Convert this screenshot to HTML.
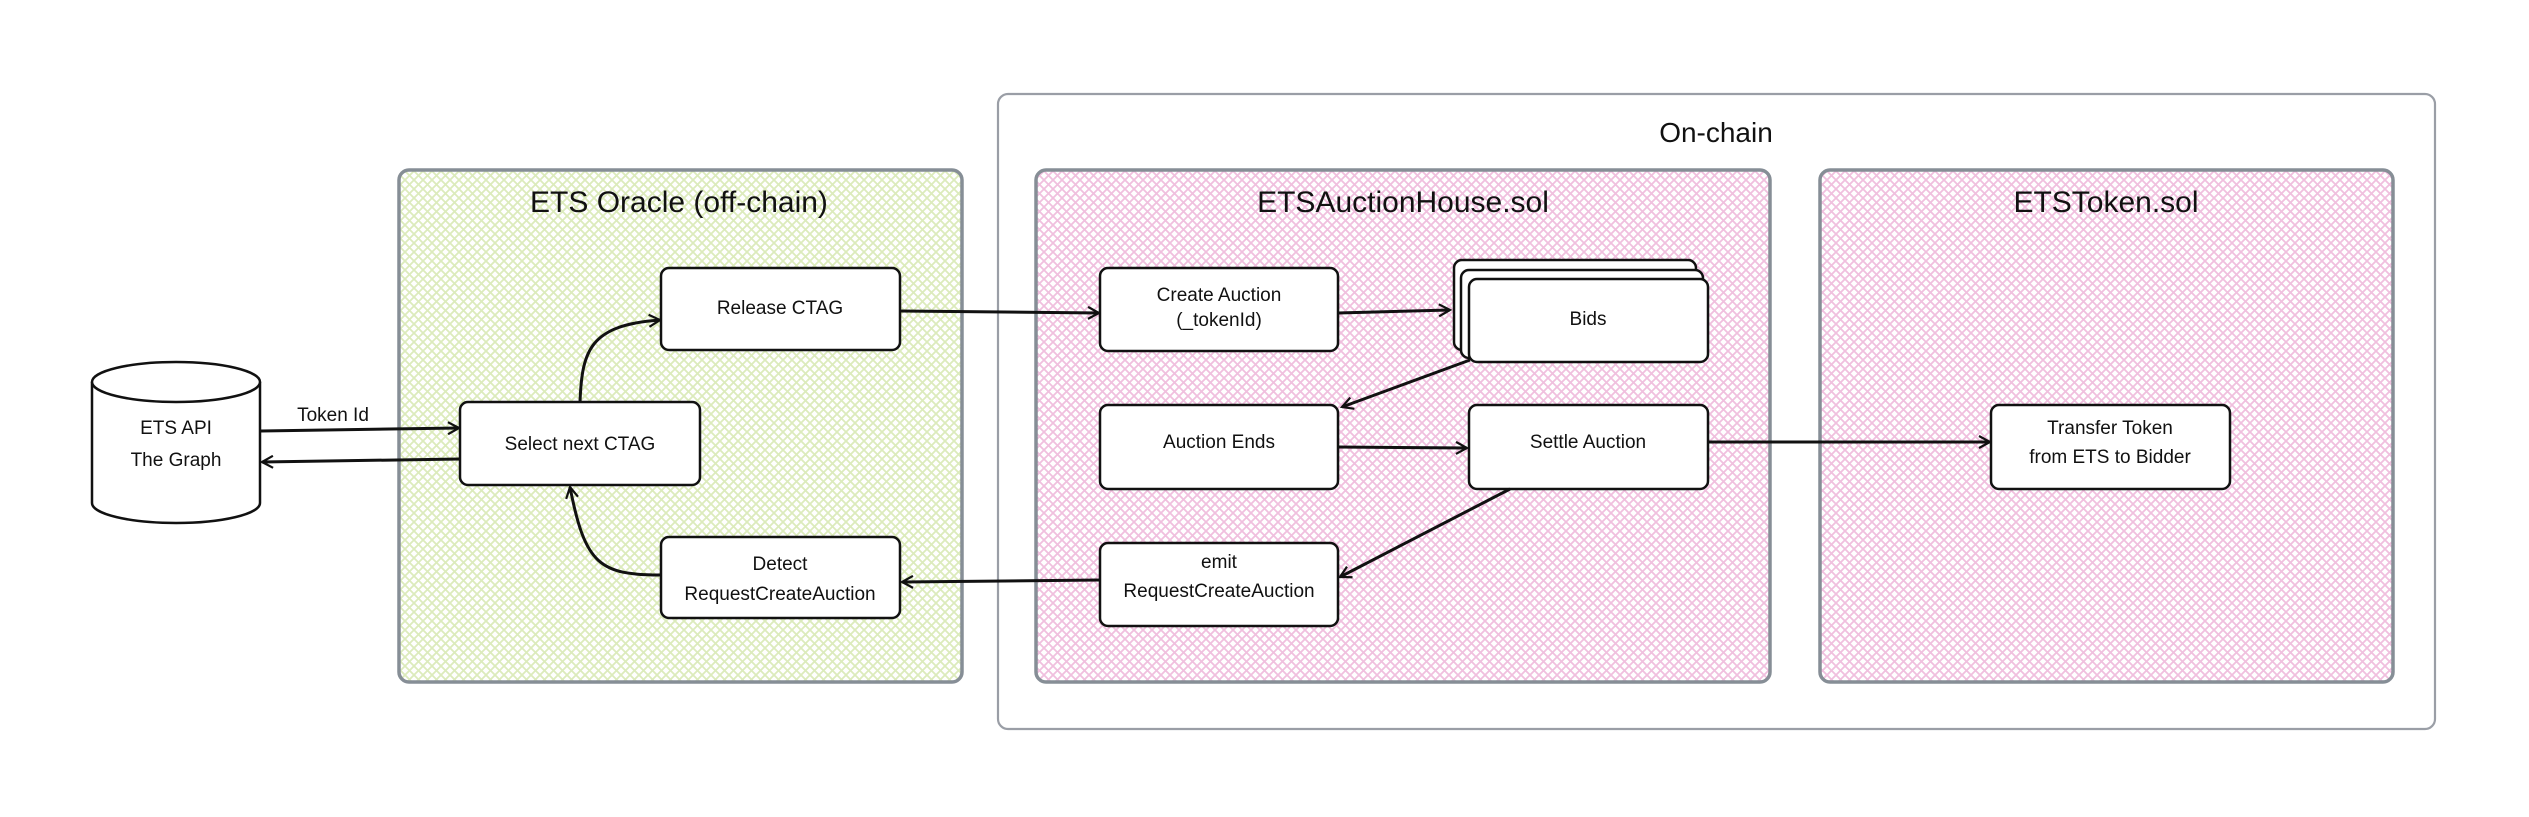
<!DOCTYPE html>
<html><head><meta charset="utf-8"><style>
html,body{margin:0;padding:0;background:#fff}
svg{display:block}
text{font-family:"Liberation Sans",sans-serif;fill:#111}
</style></head><body>
<svg width="2529" height="817" viewBox="0 0 2529 817" xmlns="http://www.w3.org/2000/svg">
<defs>
<pattern id="pg" width="9" height="9" patternUnits="userSpaceOnUse">
<path d="M0,0 L9,9 M9,0 L0,9" stroke="#dcebbc" stroke-width="1.8"/>
</pattern>
<pattern id="pp" width="9" height="9" patternUnits="userSpaceOnUse">
<path d="M0,0 L9,9 M9,0 L0,9" stroke="#f0c0de" stroke-width="1.8"/>
</pattern>
<marker id="ah" markerWidth="14" markerHeight="14" refX="12" refY="7" orient="auto" markerUnits="userSpaceOnUse">
<path d="M1,1 L12,7 L1,13" fill="none" stroke="#111" stroke-width="2.2"/>
</marker>
</defs>

<rect x="998" y="94" width="1437" height="635" rx="10" fill="#fff" stroke="#9a9ea6" stroke-width="2.2"/>
<text x="1716" y="142" font-size="28" text-anchor="middle">On-chain</text>

<rect x="399" y="170" width="563" height="512" rx="10" fill="url(#pg)" stroke="#868e96" stroke-width="3.5"/>
<text x="679" y="212" font-size="30" text-anchor="middle">ETS Oracle (off-chain)</text>

<rect x="1036" y="170" width="734" height="512" rx="10" fill="url(#pp)" stroke="#868e96" stroke-width="3.5"/>
<text x="1403" y="212" font-size="30" text-anchor="middle">ETSAuctionHouse.sol</text>

<rect x="1820" y="170" width="573" height="512" rx="10" fill="url(#pp)" stroke="#868e96" stroke-width="3.5"/>
<text x="2106" y="212" font-size="30" text-anchor="middle">ETSToken.sol</text>

<path d="M92,382 L92,503 A84,20 0 0 0 260,503 L260,382" fill="#fff" stroke="#111" stroke-width="2.5"/>
<ellipse cx="176" cy="382" rx="84" ry="20" fill="#fff" stroke="#111" stroke-width="2.5"/>
<text x="176" y="434" font-size="19" text-anchor="middle">ETS API</text>
<text x="176" y="466" font-size="19" text-anchor="middle">The Graph</text>

<g fill="#fff" stroke="#111" stroke-width="2.5">
<rect x="661" y="268" width="239" height="82" rx="8"/>
<rect x="460" y="402" width="240" height="83" rx="8"/>
<rect x="661" y="537" width="239" height="81" rx="8"/>
<rect x="1100" y="268" width="238" height="83" rx="8"/>
<rect x="1454" y="260" width="242" height="90" rx="8"/>
<rect x="1461" y="270" width="242" height="88" rx="8"/>
<rect x="1469" y="279" width="239" height="83" rx="8"/>
<rect x="1100" y="405" width="238" height="84" rx="8"/>
<rect x="1469" y="405" width="239" height="84" rx="8"/>
<rect x="1100" y="543" width="238" height="83" rx="8"/>
<rect x="1991" y="405" width="239" height="84" rx="8"/>
</g>
<g font-size="19" text-anchor="middle">
<text x="780" y="314">Release CTAG</text>
<text x="580" y="450">Select next CTAG</text>
<text x="780" y="570">Detect</text>
<text x="780" y="600">RequestCreateAuction</text>
<text x="1219" y="301">Create Auction</text>
<text x="1219" y="326">(_tokenId)</text>
<text x="1588" y="325">Bids</text>
<text x="1219" y="448">Auction Ends</text>
<text x="1588" y="448">Settle Auction</text>
<text x="1219" y="568">emit</text>
<text x="1219" y="597">RequestCreateAuction</text>
<text x="2110" y="434">Transfer Token</text>
<text x="2110" y="463">from ETS to Bidder</text>
</g>
<text x="333" y="421" font-size="19" text-anchor="middle">Token Id</text>

<g fill="none" stroke="#111" stroke-width="3" marker-end="url(#ah)">
<path d="M261,431 L459,428"/>
<path d="M460,459 L262,462"/>
<path d="M580,402 C582,350 590,325 660,320"/>
<path d="M661,575 C600,575 585,565 570,487"/>
<path d="M900,311 L1099,313"/>
<path d="M1338,313 L1450,310"/>
<path d="M1470,360 L1342,407"/>
<path d="M1338,447 L1467,448"/>
<path d="M1708,442 L1990,442"/>
<path d="M1510,489 L1340,577"/>
<path d="M1100,580 L902,582"/>
</g>
</svg>
</body></html>
